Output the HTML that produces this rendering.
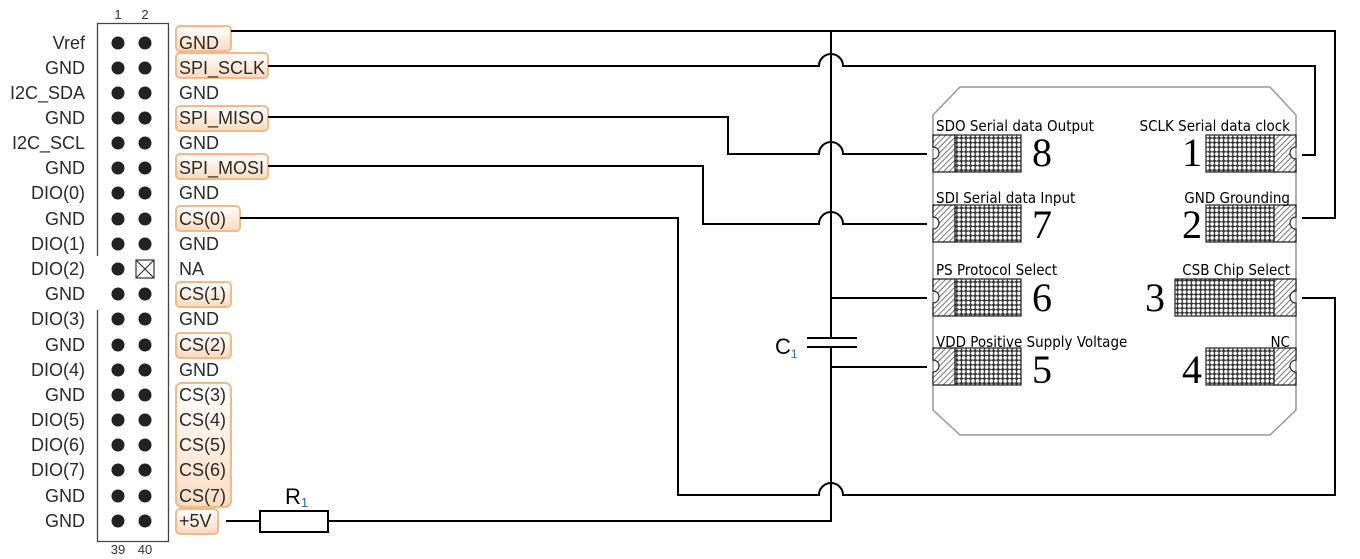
<!DOCTYPE html>
<html><head><meta charset="utf-8"><style>
body{margin:0;background:#fff;}
svg{display:block;}
.l{font-family:"Liberation Sans",sans-serif;font-size:18px;fill:#2a2a2a;}
.c{font-family:"DejaVu Sans Condensed","Liberation Sans",sans-serif;font-size:15px;fill:#000;}
.n{font-family:"Liberation Serif",serif;font-size:40px;fill:#000;}
</style></head><body>
<svg width="1360" height="559" viewBox="0 0 1360 559" xmlns="http://www.w3.org/2000/svg">
<defs>
<pattern id="mesh" width="4.6" height="4.6" patternUnits="userSpaceOnUse">
<rect width="4.6" height="4.6" fill="#333"/><circle cx="2.3" cy="2.3" r="1.8" fill="#fff"/>
</pattern>
<pattern id="hatch" width="4" height="4" patternUnits="userSpaceOnUse" patternTransform="rotate(45)">
<rect width="4" height="4" fill="#fff"/><line x1="0" y1="0" x2="0" y2="4" stroke="#555" stroke-width="1.6"/>
</pattern>
<linearGradient id="og" x1="0" y1="0" x2="0" y2="1"><stop offset="0" stop-color="#fff"/><stop offset="1" stop-color="#fbd9bd"/></linearGradient>
<linearGradient id="og2" x1="0" y1="0" x2="0" y2="1"><stop offset="0" stop-color="#fff"/><stop offset="1" stop-color="#fcdcc2"/></linearGradient>
</defs>

<text x="118" y="19" font-family="Liberation Sans" font-size="13" text-anchor="middle" fill="#333">1</text>
<text x="145" y="19" font-family="Liberation Sans" font-size="13" text-anchor="middle" fill="#333">2</text>
<text x="118" y="554" font-family="Liberation Sans" font-size="13" text-anchor="middle" fill="#333">39</text>
<text x="145" y="554" font-family="Liberation Sans" font-size="13" text-anchor="middle" fill="#333">40</text>
<path d="M97.5,256 V23.5 H168.5 V541.5 H97.5 V310" fill="none" stroke="#444" stroke-width="1.3"/>

<g fill="url(#og)" stroke="#f3b987" stroke-width="2">
<rect x="176" y="26" width="55" height="25" rx="4"/>
<rect x="176" y="53" width="92" height="25" rx="4"/>
<rect x="176" y="106" width="92" height="25" rx="4"/>
<rect x="176" y="154" width="92" height="25" rx="4"/>
<rect x="176" y="206" width="64" height="25" rx="4"/>
<rect x="176" y="282" width="55" height="25" rx="4"/>
<rect x="176" y="333" width="55" height="25" rx="4"/>
<rect x="176" y="383" width="55" height="124" rx="6" fill="url(#og2)"/>
<rect x="176" y="509" width="42" height="25" rx="4"/>
</g>

<g class="l">
<g text-anchor="end">
<text x="85" y="49">Vref</text><text x="85" y="74">GND</text><text x="85" y="99">I2C_SDA</text>
<text x="85" y="124">GND</text><text x="85" y="149">I2C_SCL</text><text x="85" y="174">GND</text>
<text x="85" y="199">DIO(0)</text><text x="85" y="225">GND</text><text x="85" y="250">DIO(1)</text>
<text x="85" y="275">DIO(2)</text><text x="85" y="300">GND</text><text x="85" y="325">DIO(3)</text>
<text x="85" y="351">GND</text><text x="85" y="376">DIO(4)</text><text x="85" y="401">GND</text>
<text x="85" y="426">DIO(5)</text><text x="85" y="451">DIO(6)</text><text x="85" y="476">DIO(7)</text>
<text x="85" y="502">GND</text><text x="85" y="527">GND</text>
</g>
<text x="179" y="49">GND</text><text x="179" y="74">SPI_SCLK</text><text x="179" y="99">GND</text>
<text x="179" y="124">SPI_MISO</text><text x="179" y="149">GND</text><text x="179" y="174">SPI_MOSI</text>
<text x="179" y="199">GND</text><text x="179" y="225">CS(0)</text><text x="179" y="250">GND</text>
<text x="179" y="275">NA</text><text x="179" y="300">CS(1)</text><text x="179" y="325">GND</text>
<text x="179" y="351">CS(2)</text><text x="179" y="376">GND</text><text x="179" y="401">CS(3)</text>
<text x="179" y="426">CS(4)</text><text x="179" y="451">CS(5)</text><text x="179" y="476">CS(6)</text>
<text x="179" y="502">CS(7)</text><text x="179" y="527">+5V</text>
</g>

<g fill="#222">
<circle cx="118" cy="43" r="6.5"/><circle cx="145" cy="43" r="6.5"/>
<circle cx="118" cy="68" r="6.5"/><circle cx="145" cy="68" r="6.5"/>
<circle cx="118" cy="93" r="6.5"/><circle cx="145" cy="93" r="6.5"/>
<circle cx="118" cy="118" r="6.5"/><circle cx="145" cy="118" r="6.5"/>
<circle cx="118" cy="143" r="6.5"/><circle cx="145" cy="143" r="6.5"/>
<circle cx="118" cy="168" r="6.5"/><circle cx="145" cy="168" r="6.5"/>
<circle cx="118" cy="193" r="6.5"/><circle cx="145" cy="193" r="6.5"/>
<circle cx="118" cy="219" r="6.5"/><circle cx="145" cy="219" r="6.5"/>
<circle cx="118" cy="244" r="6.5"/><circle cx="145" cy="244" r="6.5"/>
<circle cx="118" cy="269" r="6.5"/>
<circle cx="118" cy="294" r="6.5"/><circle cx="145" cy="294" r="6.5"/>
<circle cx="118" cy="319" r="6.5"/><circle cx="145" cy="319" r="6.5"/>
<circle cx="118" cy="345" r="6.5"/><circle cx="145" cy="345" r="6.5"/>
<circle cx="118" cy="370" r="6.5"/><circle cx="145" cy="370" r="6.5"/>
<circle cx="118" cy="395" r="6.5"/><circle cx="145" cy="395" r="6.5"/>
<circle cx="118" cy="420" r="6.5"/><circle cx="145" cy="420" r="6.5"/>
<circle cx="118" cy="445" r="6.5"/><circle cx="145" cy="445" r="6.5"/>
<circle cx="118" cy="470" r="6.5"/><circle cx="145" cy="470" r="6.5"/>
<circle cx="118" cy="496" r="6.5"/><circle cx="145" cy="496" r="6.5"/>
<circle cx="118" cy="521" r="6.5"/><circle cx="145" cy="521" r="6.5"/>
</g>
<g stroke="#333" stroke-width="1.2" fill="#fff"><rect x="136" y="260" width="18" height="18"/><path d="M136,260 L154,278 M154,260 L136,278"/></g>

<path d="M933,115 L960,87 H1270 L1296,115 V410 L1270,435 H960 L933,410 Z" fill="#fff" stroke="#999" stroke-width="1.5"/>

<g stroke="#222" stroke-width="1.2">
<g id="lp">
<path d="M933,135 H955 V172 H933 V159 A6,6 0 0 0 933,147 Z" fill="url(#hatch)"/>
<rect x="955" y="135" width="66" height="37" fill="url(#mesh)"/>
</g>
<use href="#lp" y="70"/><use href="#lp" y="144"/><use href="#lp" y="213"/>
<g id="rp">
<path d="M1296,135 H1274 V172 H1296 V159 A6,6 0 0 1 1296,147 Z" fill="url(#hatch)"/>
<rect x="1206" y="135" width="68" height="37" fill="url(#mesh)"/>
</g>
<use href="#rp" y="70"/><use href="#rp" y="213"/>
<path d="M1296,279 H1274 V316 H1296 V303 A6,6 0 0 1 1296,291 Z" fill="url(#hatch)"/>
<rect x="1175" y="279" width="99" height="37" fill="url(#mesh)"/>
</g>

<g class="c">
<text x="936" y="131">SDO Serial data Output</text>
<text x="936" y="203">SDI Serial data Input</text>
<text x="936" y="275">PS Protocol Select</text>
<text x="936" y="347">VDD Positive Supply Voltage</text>
<g text-anchor="end">
<text x="1290" y="131">SCLK Serial data clock</text>
<text x="1290" y="203">GND Grounding</text>
<text x="1290" y="275">CSB Chip Select</text>
<text x="1290" y="347">NC</text>
</g>
</g>
<g class="n">
<text x="1032" y="166">8</text><text x="1032" y="238">7</text>
<text x="1032" y="311">6</text><text x="1032" y="383">5</text>
<text x="1182" y="166">1</text><text x="1182" y="238">2</text>
<text x="1145" y="311">3</text><text x="1182" y="383">4</text>
</g>

<g fill="none" stroke="#000" stroke-width="2">
<path d="M231,31 H1335 V218 H1302"/>
<path d="M831,31 V338 M831,347 V521 H328"/>
<path d="M260,521 H226"/>
<path d="M268,66 H819 A12,12 0 0 1 843,66 H1315 V155 H1302"/>
<path d="M268,117 H728 V154 H819 A12,12 0 0 1 843,154 H927"/>
<path d="M268,166 H703 V224 H819 A12,12 0 0 1 843,224 H927"/>
<path d="M240,218 H678 V495 H819 A12,12 0 0 1 843,495 H1335 V298 H1302"/>
<path d="M831,298 H927 M831,367 H927"/>
<path d="M807,338 H857 M807,347 H857"/>
</g>
<rect x="260" y="511" width="68" height="21" fill="#fff" stroke="#000" stroke-width="2"/>
<text x="285" y="504" font-family="Liberation Sans" font-size="22" fill="#000">R<tspan font-size="13" fill="#2a64c8" dy="3">1</tspan></text>
<text x="775" y="354" font-family="Liberation Sans" font-size="22" fill="#000">C<tspan font-size="12" fill="#2a64c8" dy="4">1</tspan></text>
</svg>
</body></html>
